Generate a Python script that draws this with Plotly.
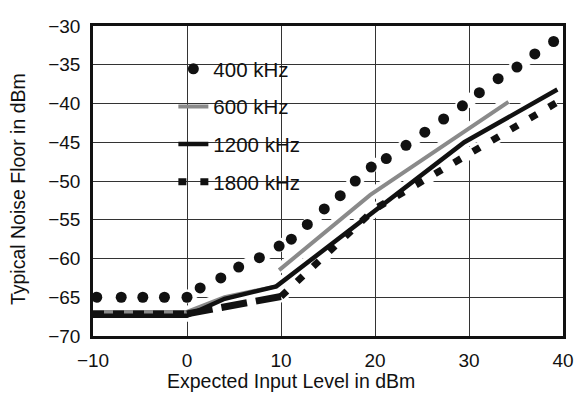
import plotly.graph_objects as go

# ---------------- data ----------------
x_ticks = [-10, 0, 10, 20, 30, 40]
y_ticks = [-70, -65, -60, -55, -50, -45, -40, -35, -30]

x_400 = [-9.6, -7.0, -4.7, -2.4, 0.0, 1.4, 3.6, 5.5, 7.7, 9.8, 11.1, 12.8, 14.6,
         16.3, 17.9, 19.6, 21.2, 23.3, 25.3, 27.3, 29.3, 31.1, 33.1, 35.1, 37.0, 39.0]
y_400 = [-65.0, -65.0, -65.0, -65.0, -65.0, -63.8, -62.5, -61.1, -59.9, -58.4, -57.5,
         -55.6, -53.6, -51.9, -50.0, -48.2, -47.1, -45.4, -43.7, -42.0, -40.3, -38.6,
         -36.8, -35.3, -33.6, -32.0]

x_600 = [-10, 0, 4, 9.5, None, 9.8, 19.5, 34.2]
y_600 = [-66.9, -66.9, -65.0, -63.6, None, -61.5, -51.8, -39.8]

x_1200 = [-10, 0, 4, 9.5, 29.5, 39.4]
y_1200 = [-67.4, -67.4, -65.2, -63.6, -45.0, -38.2]

x_1800 = [-10, 0, 10, 20, 39.3]
y_1800 = [-67.15, -67.15, -64.9, -53.6, -39.9]

names = ["400 kHz", "600 kHz", "1200 kHz", "1800 kHz"]

FONT = "Liberation Sans, Arial, sans-serif"
BLACK = "#111111"
GRAY = "#8a8a8a"

fig = go.Figure()

# white halos so gridlines break around the curves
for xs, ys in [(x_400, y_400), (x_600, y_600), (x_1200, y_1200), (x_1800, y_1800)]:
    fig.add_trace(go.Scatter(x=xs, y=ys, mode="lines", line=dict(color="white", width=12),
                             showlegend=False, hoverinfo="skip"))

fig.add_trace(go.Scatter(x=x_600, y=y_600, mode="lines", name=names[1], legendgroup="b",
                         legendrank=2, line=dict(color=GRAY, width=4)))
fig.add_trace(go.Scatter(x=x_1200, y=y_1200, mode="lines", name=names[2], legendgroup="c",
                         legendrank=3, line=dict(color=BLACK, width=4.5)))
# 1800 kHz drawn as three dashed pieces
fig.add_trace(go.Scatter(x=x_1800[0:2], y=y_1800[0:2], mode="lines", legendgroup="d",
                         showlegend=False, line=dict(color=BLACK, width=7, dash="11px,9px")))
fig.add_trace(go.Scatter(x=x_1800[1:3], y=y_1800[1:3], mode="lines", legendgroup="d",
                         showlegend=False, line=dict(color=BLACK, width=7, dash="26px,9px")))
fig.add_trace(go.Scatter(x=x_1800[2:], y=y_1800[2:], mode="lines", name=names[3], legendgroup="d",
                         legendrank=4, line=dict(color=BLACK, width=7, dash="8px,14px")))
fig.add_trace(go.Scatter(x=x_400, y=y_400, mode="markers", name=names[0], legendgroup="a",
                         legendrank=1, marker=dict(color=BLACK, size=11, symbol="circle")))

axis_common = dict(showgrid=True, gridcolor="#333333", gridwidth=1.3, showline=True,
                   linecolor=BLACK, linewidth=2.6, mirror=True, ticks="", zeroline=False,
                   tickfont=dict(family=FONT, size=19, color=BLACK))

fig.update_layout(
    width=574, height=388,
    margin=dict(l=85, r=8, t=9, b=60),
    paper_bgcolor="white", plot_bgcolor="white",
    xaxis=dict(range=[-10, 40], tickvals=x_ticks, ticklabelstandoff=5, **axis_common),
    yaxis=dict(range=[-70, -30], tickvals=y_ticks, ticklabelstandoff=6, **axis_common),
    legend=dict(x=0.171, y=0.926, xanchor="left", yanchor="top", bgcolor="rgba(0,0,0,0)",
                font=dict(family=FONT, size=20.5, color=BLACK), tracegroupgap=8,
                traceorder="grouped"),
    shapes=[dict(type="rect", xref="paper", yref="paper", x0=0.077, x1=0.45, y0=0.48, y1=0.918,
                 fillcolor="white", line=dict(width=0), layer="between")],
    annotations=[
        dict(text="Expected Input Level in dBm", xref="paper", yref="paper", x=0.421, y=-0.104,
             xanchor="center", yanchor="top", showarrow=False,
             font=dict(family=FONT, size=19.5, color=BLACK)),
        dict(text="Typical Noise Floor in dBm", xref="paper", yref="paper", x=-0.158, y=0.473,
             xanchor="center", yanchor="middle", textangle=-90, showarrow=False,
             font=dict(family=FONT, size=19.5, color=BLACK)),
    ],
)

fig.write_html("out.html")
